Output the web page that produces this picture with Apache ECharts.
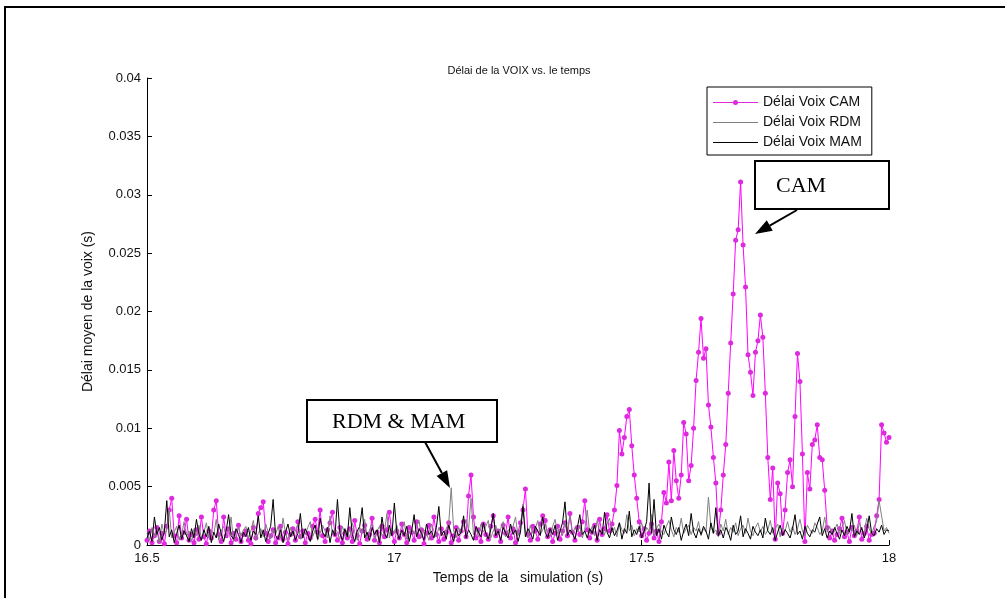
<!DOCTYPE html>
<html><head><meta charset="utf-8">
<script src="https://cdn.jsdelivr.net/npm/echarts@6/dist/echarts.min.js"></script>
<style>html,body{margin:0;padding:0;background:#fff;}#c{width:1005px;height:598px;}</style>
</head><body><div id="c"></div>
<script>
// sampling grid of the simulation (s)
const timeStart = 16.5;
const timeStep = 0.005;

const camValues = [
 .0004,.0012,.0002,.0008,.0015,.0003,.0010,.0001,.0016,.0030,.0040,.0008,.0002,.0025,.0006,.0011,.0022,.0004,.0009,.0002,
 .0013,.0005,.0024,.0007,.0001,.0012,.0006,.0030,.0038,.0009,.0003,.0024,.0008,.0014,.0002,.0010,.0005,.0017,.0003,.0009,
 .0012,.0004,.0001,.0015,.0006,.0027,.0032,.0037,.0010,.0003,.0008,.0013,.0002,.0006,.0016,.0005,.0011,.0001,.0009,.0014,
 .0004,.0020,.0007,.0012,.0002,.0010,.0006,.0016,.0022,.0011,.0030,.0008,.0003,.0013,.0019,.0028,.0009,.0004,.0015,.0002,
 .0010,.0006,.0014,.0003,.0021,.0008,.0001,.0012,.0017,.0005,.0009,.0023,.0004,.0011,.0002,.0016,.0007,.0013,.0028,.0010,
 .0003,.0012,.0006,.0018,.0009,.0002,.0015,.0011,.0004,.0020,.0007,.0013,.0001,.0010,.0017,.0006,.0024,.0009,.0003,.0014,
 .0005,.0011,.0019,.0002,.0008,.0015,.0004,.0012,.0020,.0007,.0042,.0060,.0024,.0006,.0013,.0003,.0018,.0009,.0005,.0016,
 .0025,.0008,.0012,.0003,.0017,.0010,.0024,.0006,.0014,.0002,.0011,.0019,.0030,.0048,.0009,.0004,.0016,.0012,.0005,.0018,
 .0025,.0021,.0007,.0013,.0003,.0010,.0016,.0005,.0012,.0019,.0008,.0027,.0011,.0004,.0015,.0009,.0020,.0038,.0013,.0006,
 .0011,.0017,.0004,.0022,.0009,.0014,.0026,.0012,.0018,.0030,.0051,.0098,.0078,.0092,.0110,.0116,.0085,.0060,.0040,.0020,
 .0008,.0014,.0004,.0010,.0018,.0006,.0012,.0003,.0020,.0045,.0036,.0071,.0038,.0081,.0055,.0040,.0060,.0105,.0095,.0055,
 .0068,.0100,.0141,.0165,.0194,.0160,.0168,.0120,.0101,.0075,.0053,.0010,.0030,.0060,.0086,.0130,.0173,.0215,.0261,.0270,
 .0311,.0257,.0221,.0163,.0148,.0128,.0165,.0175,.0197,.0178,.0130,.0075,.0039,.0066,.0005,.0053,.0044,.0010,.0030,.0062,
 .0073,.0050,.0110,.0164,.0140,.0078,.0003,.0062,.0048,.0086,.0090,.0103,.0075,.0073,.0047,.0015,.0006,.0012,.0004,.0009,
 .0014,.0023,.0007,.0011,.0003,.0015,.0008,.0012,.0024,.0005,.0010,.0016,.0004,.0009,.0010,.0025,.0039,.0103,.0096,.0088,
 .0092
];

const rdmValues = [
 .0010,.0004,.0015,.0007,.0012,.0002,.0018,.0009,.0013,.0030,.0006,.0011,.0016,.0004,.0009,.0020,.0007,.0012,.0003,.0014,
 .0008,.0017,.0005,.0011,.0019,.0006,.0013,.0009,.0022,.0004,.0012,.0016,.0007,.0010,.0024,.0003,.0011,.0015,.0008,.0013,
 .0016,.0006,.0012,.0021,.0004,.0010,.0014,.0007,.0018,.0011,.0005,.0013,.0009,.0016,.0006,.0023,.0010,.0004,.0015,.0008,
 .0012,.0018,.0005,.0011,.0009,.0015,.0020,.0007,.0013,.0004,.0010,.0017,.0012,.0006,.0025,.0009,.0014,.0011,.0005,.0016,
 .0009,.0013,.0006,.0019,.0011,.0004,.0015,.0010,.0022,.0007,.0013,.0018,.0005,.0012,.0016,.0008,.0011,.0027,.0006,.0014,
 .0010,.0017,.0008,.0012,.0020,.0005,.0011,.0014,.0009,.0016,.0021,.0006,.0013,.0010,.0004,.0018,.0012,.0007,.0015,.0011,
 .0008,.0014,.0019,.0049,.0012,.0006,.0015,.0010,.0017,.0022,.0013,.0040,.0009,.0014,.0007,.0018,.0011,.0016,.0021,.0006,
 .0012,.0017,.0009,.0014,.0020,.0007,.0013,.0011,.0016,.0024,.0008,.0015,.0035,.0012,.0006,.0017,.0010,.0014,.0021,.0009,
 .0013,.0018,.0011,.0007,.0016,.0022,.0010,.0014,.0008,.0019,.0012,.0025,.0009,.0015,.0011,.0017,.0006,.0013,.0030,.0010,
 .0016,.0008,.0021,.0012,.0014,.0009,.0018,.0023,.0011,.0015,.0007,.0019,.0013,.0010,.0026,.0012,.0017,.0008,.0014,.0011,
 .0019,.0010,.0015,.0012,.0026,.0008,.0014,.0018,.0011,.0009,.0016,.0021,.0013,.0007,.0015,.0011,.0023,.0010,.0014,.0017,
 .0009,.0015,.0012,.0020,.0008,.0014,.0011,.0041,.0016,.0010,.0013,.0007,.0018,.0012,.0022,.0009,.0015,.0011,.0019,.0008,
 .0014,.0017,.0010,.0023,.0012,.0008,.0015,.0019,.0011,.0016,.0009,.0013,.0021,.0010,.0014,.0018,.0007,.0015,.0012,.0020,
 .0011,.0016,.0009,.0014,.0022,.0012,.0008,.0017,.0013,.0010,.0019,.0015,.0009,.0012,.0024,.0011,.0016,.0008,.0013,.0018,
 .0010,.0015,.0021,.0009,.0014,.0012,.0017,.0008,.0019,.0013,.0011,.0023,.0014,.0009,.0016,.0020,.0038,.0025,.0012,.0015,
 .0010
];

const mamValues = [
 .0006,.0012,.0003,.0024,.0009,.0015,.0004,.0011,.0038,.0007,.0013,.0002,.0010,.0017,.0005,.0012,.0008,.0003,.0014,.0006,
 .0022,.0009,.0004,.0013,.0007,.0016,.0002,.0011,.0006,.0018,.0010,.0003,.0012,.0026,.0008,.0005,.0014,.0009,.0002,.0011,
 .0007,.0015,.0004,.0012,.0009,.0025,.0006,.0013,.0003,.0010,.0016,.0039,.0008,.0005,.0013,.0002,.0011,.0018,.0007,.0012,
 .0004,.0010,.0027,.0006,.0014,.0009,.0003,.0012,.0017,.0005,.0023,.0011,.0007,.0015,.0002,.0013,.0008,.0039,.0010,.0004,
 .0014,.0007,.0032,.0009,.0003,.0012,.0016,.0032,.0006,.0011,.0004,.0015,.0009,.0013,.0002,.0024,.0010,.0006,.0017,.0008,
 .0036,.0011,.0005,.0013,.0008,.0016,.0003,.0012,.0026,.0007,.0014,.0010,.0004,.0018,.0009,.0012,.0006,.0015,.0033,.0008,
 .0012,.0005,.0017,.0010,.0003,.0014,.0008,.0011,.0025,.0006,.0013,.0009,.0004,.0016,.0011,.0007,.0019,.0010,.0005,.0013,
 .0027,.0008,.0012,.0004,.0015,.0010,.0006,.0018,.0009,.0013,.0003,.0011,.0033,.0007,.0014,.0010,.0005,.0016,.0012,.0008,
 .0024,.0011,.0006,.0014,.0009,.0017,.0004,.0012,.0019,.0037,.0008,.0013,.0010,.0005,.0015,.0026,.0009,.0012,.0006,.0014,
 .0010,.0017,.0004,.0013,.0009,.0028,.0011,.0006,.0015,.0008,.0012,.0019,.0005,.0014,.0010,.0029,.0007,.0013,.0009,.0016,
 .0006,.0012,.0020,.0053,.0010,.0039,.0008,.0014,.0005,.0017,.0011,.0007,.0024,.0013,.0009,.0015,.0004,.0012,.0018,.0008,
 .0027,.0011,.0006,.0014,.0009,.0016,.0012,.0005,.0019,.0010,.0032,.0008,.0013,.0006,.0015,.0011,.0004,.0017,.0009,.0012,
 .0025,.0007,.0014,.0010,.0005,.0016,.0011,.0008,.0013,.0006,.0023,.0012,.0009,.0015,.0004,.0011,.0017,.0008,.0013,.0010,
 .0006,.0014,.0026,.0009,.0012,.0005,.0016,.0010,.0007,.0013,.0011,.0018,.0024,.0008,.0014,.0006,.0012,.0009,.0015,.0010,
 .0005,.0013,.0008,.0016,.0011,.0027,.0007,.0012,.0009,.0015,.0006,.0013,.0025,.0010,.0008,.0014,.0011,.0017,.0009,.0013,
 .0012
];

const seriesNames = ['Délai Voix CAM', 'Délai Voix RDM', 'Délai Voix MAM'];
const chartTitle = 'Délai de la VOIX vs. le temps';
const xAxisName = 'Temps de la   simulation (s)';
const yAxisName = 'Délai moyen de la voix (s)';
const annotationCAM = 'CAM';
const annotationRDM = 'RDM & MAM';

function toPairs(vals) {
  return vals.map((v, i) => [+(timeStart + i * timeStep).toFixed(3), v]);
}

function arrow(x1, y1, x2, y2, len, half) {
  const dx = x2 - x1, dy = y2 - y1, d = Math.hypot(dx, dy);
  const ux = dx / d, uy = dy / d;
  const bx = x2 - ux * len, by = y2 - uy * len;
  return [
    {type: 'line', silent: true, z: 20, shape: {x1: x1, y1: y1, x2: bx, y2: by}, style: {stroke: '#000', lineWidth: 2}},
    {type: 'polygon', silent: true, z: 20, shape: {points: [[x2, y2], [bx - uy * half, by + ux * half], [bx + uy * half, by - ux * half]]}, style: {fill: '#000'}}
  ];
}

const chart = echarts.init(document.getElementById('c'), null, {renderer: 'canvas'});
const font = '"Liberation Sans", Arial, sans-serif';
const serif = '"Liberation Serif", "Times New Roman", serif';
// legend glyphs: 45x6 box, 1px line on an integer row
const lineIcon = 'path://M0,0 M0,3H45V4H0Z M45,6';
const markerIcon = 'path://M0,0 M0,3H45V4H0Z M20,3.5a2.5,2.5 0 1,1 5,0a2.5,2.5 0 1,1 -5,0Z M45,6';

chart.setOption({
  animation: false,
  backgroundColor: '#fff',
  title: {
    text: chartTitle, left: 514, top: 60, textAlign: 'center',
    textStyle: {fontFamily: font, fontSize: 11, fontWeight: 'normal', color: '#111'}
  },
  grid: {left: 147, right: 116, top: 78, bottom: 53, containLabel: false, outerBoundsMode: 'none'},
  legend: {
    orient: 'vertical', left: 707, top: 87,
    data: [
      {name: seriesNames[0], icon: markerIcon},
      {name: seriesNames[1], icon: lineIcon},
      {name: seriesNames[2], icon: lineIcon}
    ],
    itemWidth: 45, itemHeight: 6, itemGap: 4, symbolKeepAspect: true,
    padding: [7, 10, 5, 6],
    borderColor: '#000', borderWidth: 1, backgroundColor: '#fff',
    textStyle: {fontFamily: font, fontSize: 14, color: '#111', lineHeight: 16},
    selectedMode: false
  },
  xAxis: {
    type: 'value', min: 16.5, max: 18, interval: 0.5,
    name: xAxisName, nameLocation: 'middle', nameGap: 26,
    nameTextStyle: {fontFamily: font, fontSize: 14, color: '#111'},
    axisLine: {show: true, onZero: false, lineStyle: {color: '#000', width: 1}},
    axisTick: {show: true, inside: true, length: 5, lineStyle: {color: '#000'}},
    axisLabel: {fontFamily: font, fontSize: 13, color: '#111', margin: 7},
    splitLine: {show: false}
  },
  yAxis: {
    type: 'value', min: 0, max: 0.04, interval: 0.005,
    name: yAxisName, nameLocation: 'middle', nameGap: 52, nameRotate: 90,
    nameTextStyle: {fontFamily: font, fontSize: 14, color: '#111'},
    axisLine: {show: true, lineStyle: {color: '#000', width: 1}},
    axisTick: {show: true, inside: true, length: 5, lineStyle: {color: '#000'}},
    axisLabel: {fontFamily: font, fontSize: 13, color: '#111', margin: 6},
    splitLine: {show: false}
  },
  series: [
    {
      name: seriesNames[0], type: 'line', data: toPairs(camValues),
      symbol: 'circle', symbolSize: 5, showSymbol: true, showAllSymbol: true,
      lineStyle: {color: '#ff00ff', width: 1}, itemStyle: {color: '#dd2add'},
      emphasis: {disabled: true}, z: 2
    },
    {
      name: seriesNames[1], type: 'line', data: toPairs(rdmValues),
      showSymbol: false, symbol: 'none',
      lineStyle: {color: '#808080', width: 1}, itemStyle: {color: '#808080'},
      emphasis: {disabled: true}, z: 3
    },
    {
      name: seriesNames[2], type: 'line', data: toPairs(mamValues),
      showSymbol: false, symbol: 'none',
      lineStyle: {color: '#000', width: 1}, itemStyle: {color: '#000'},
      emphasis: {disabled: true}, z: 4
    }
  ],
  graphic: [
    {type: 'rect', silent: true, z: 30, shape: {x: 5, y: 7, width: 1020, height: 640}, style: {fill: 'none', stroke: '#000', lineWidth: 2}},
    {type: 'rect', silent: true, z: 20, shape: {x: 755, y: 161, width: 134, height: 48}, style: {fill: '#fff', stroke: '#000', lineWidth: 2}},
    {type: 'text', silent: true, z: 21, x: 776, y: 186, style: {text: annotationCAM, font: '22px ' + serif, fill: '#000', verticalAlign: 'middle'}},
    {type: 'rect', silent: true, z: 20, shape: {x: 307, y: 400, width: 190, height: 42}, style: {fill: '#fff', stroke: '#000', lineWidth: 2}},
    {type: 'text', silent: true, z: 21, x: 332, y: 422, style: {text: annotationRDM, font: '22px ' + serif, fill: '#000', verticalAlign: 'middle'}}
  ].concat(arrow(797, 210, 755, 234, 17, 6)).concat(arrow(425, 442, 450, 488, 17, 6))
});
</script>
</body></html>
